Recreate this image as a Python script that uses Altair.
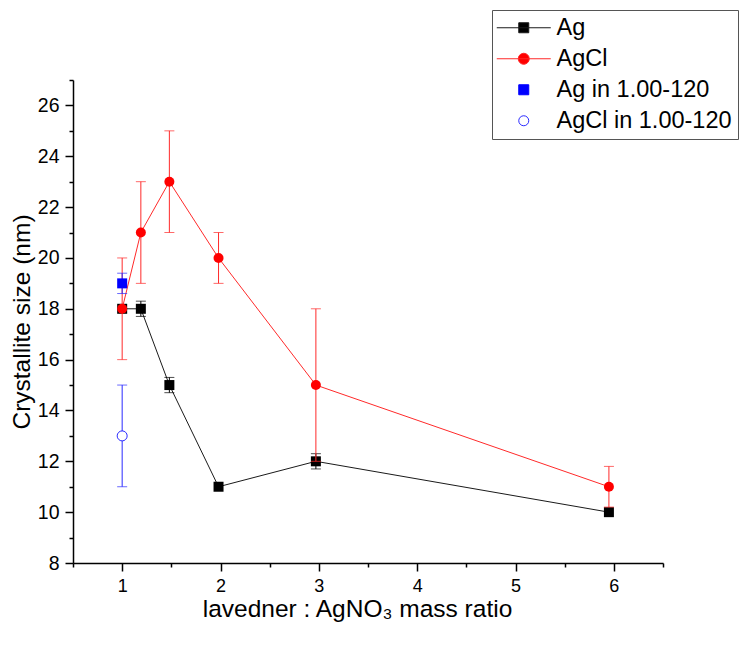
import altair as alt
import pandas as pd

# ---- data ----
ratio_ag = [1.0, 1.19, 1.48, 1.98, 2.97, 5.95]
size_ag = [18, 18, 15, 11, 12, 10]
err_ag = [0, 0.3, 0.3, 0, 0.3, 0]

ratio_agcl = [1.0, 1.19, 1.48, 1.98, 2.97, 5.95]
size_agcl = [18, 21, 23, 20, 15, 11]
err_agcl = [2, 2, 2, 1, 3, 0.8]

ratio_120 = [1.0]
size_ag_120 = [19]
err_ag_120 = [0.4]
size_agcl_120 = [13]
err_agcl_120 = [2]

series_names = ["Ag", "AgCl", "Ag in 1.00-120", "AgCl in 1.00-120"]
x_major = [1, 2, 3, 4, 5, 6]
x_minor = [0.5, 1.5, 2.5, 3.5, 4.5, 5.5, 6.5]
y_major = [8, 10, 12, 14, 16, 18, 20, 22, 24, 26]
y_minor = [9, 11, 13, 15, 17, 19, 21, 23, 25, 27]


def frame(xs, ys, es, name):
    return pd.DataFrame({
        "ratio": xs,
        "size": ys,
        "lo": [y - e for y, e in zip(ys, es)],
        "hi": [y + e for y, e in zip(ys, es)],
        "err": es,
        "series": name,
    })


df_ag = frame(ratio_ag, size_ag, err_ag, series_names[0])
df_agcl = frame(ratio_agcl, size_agcl, err_agcl, series_names[1])
df_ag120 = frame(ratio_120, size_ag_120, err_ag_120, series_names[2])
df_agcl120 = frame(ratio_120, size_agcl_120, err_agcl_120, series_names[3])
df_all = pd.concat([df_ag, df_agcl, df_ag120, df_agcl120], ignore_index=True)

FONT = "Liberation Sans"
xscale = alt.Scale(domain=[0.5, 6.5], nice=False, zero=False)
yscale = alt.Scale(domain=[8, 27], nice=False, zero=False)

major_x = alt.Axis(values=x_major, orient="bottom", title="lavedner : AgNO\u2083 mass ratio",
                   grid=False, domainColor="black", domainWidth=1.5, tickColor="black",
                   tickWidth=1.5, tickSize=8, labelFont=FONT, labelFontSize=18,
                   labelColor="black", labelPadding=6, format="d", titleFont=FONT,
                   titleFontSize=24.5, titleFontWeight="normal", titleColor="black",
                   titlePadding=2, titleX=284)
major_y = alt.Axis(values=y_major, orient="left", title="Crystallite size (nm)",
                   grid=False, domainColor="black", domainWidth=1.5, tickColor="black",
                   tickWidth=1.5, tickSize=8, labelFont=FONT, labelFontSize=19.5,
                   labelColor="black", labelPadding=6, format="d", titleFont=FONT,
                   titleFontSize=24.5, titleFontWeight="normal", titleColor="black",
                   titlePadding=3)
minor_x = alt.Axis(values=x_minor, orient="bottom", title=None, labels=False, grid=False,
                   domain=False, tickColor="black", tickWidth=1.5, tickSize=4)
minor_y = alt.Axis(values=y_minor, orient="left", title=None, labels=False, grid=False,
                   domain=False, tickColor="black", tickWidth=1.5, tickSize=4)


def X(axis=None):
    return alt.X("ratio:Q", scale=xscale, axis=axis)


def Y(axis=None):
    return alt.Y("size:Q", scale=yscale, axis=axis)


def errorbars(df, color):
    d = df[df["err"] > 0]
    base = alt.Chart(d)
    rule = base.mark_rule(color=color, strokeWidth=1).encode(
        x=X(), y=alt.Y("lo:Q", scale=yscale, axis=None), y2="hi:Q")
    cap_lo = base.mark_tick(color=color, orient="horizontal", size=10, thickness=1).encode(
        x=X(), y=alt.Y("lo:Q", scale=yscale, axis=None))
    cap_hi = base.mark_tick(color=color, orient="horizontal", size=10, thickness=1).encode(
        x=X(), y=alt.Y("hi:Q", scale=yscale, axis=None))
    return [rule, cap_lo, cap_hi]


ag_line = alt.Chart(df_ag).mark_line(color="#1a1a1a", strokeWidth=1).encode(
    x=X(major_x), y=Y(major_y))
ag_pts = alt.Chart(df_ag).mark_point(shape="square", filled=True, color="black",
                                     size=100, opacity=1).encode(x=X(), y=Y())

agcl_line = alt.Chart(df_agcl).mark_line(color="#ff2a2a", strokeWidth=1).encode(
    x=X(), y=Y())
agcl_pts = alt.Chart(df_agcl).mark_point(shape="circle", filled=True, color="#ff0000",
                                         size=100, opacity=1).encode(x=X(), y=Y())

ag120_pts = alt.Chart(df_ag120).mark_point(shape="square", filled=True, color="#0000ff",
                                           size=100, opacity=1).encode(x=X(), y=Y())
agcl120_pts = alt.Chart(df_agcl120).mark_point(shape="circle", filled=False, fill="white",
                                               stroke="#2a2aff", strokeWidth=1,
                                               size=100, opacity=1).encode(x=X(), y=Y())

ag_path = "M-5.4,0H5.4M-1,-1H1V1H-1Z"
agcl_path = "M-5.4,0H5.4M1.1,0A1.1,1.1,0,1,1,-1.1,0A1.1,1.1,0,1,1,1.1,0Z"

legend = alt.Legend(title=None, orient="none", legendX=419, legendY=-70,
                    labelFont=FONT, labelFontSize=23.5, labelColor="black", labelLimit=400,
                    symbolSize=100, symbolStrokeWidth=1, symbolOffset=14, labelOffset=21,
                    padding=6, rowPadding=6, strokeColor="#555555", fillColor="white",
                    symbolOpacity=1)

legend_layer = alt.Chart(df_all).mark_point(opacity=0).encode(
    x=X(minor_x), y=Y(minor_y),
    fill=alt.Fill("series:N", scale=alt.Scale(domain=series_names,
                  range=["black", "#ff0000", "#0000ff", "white"]), legend=legend),
    stroke=alt.Stroke("series:N", scale=alt.Scale(domain=series_names,
                      range=["#1a1a1a", "#ff2a2a", "#0000ff", "#2a2aff"]), legend=legend),
    shape=alt.Shape("series:N", scale=alt.Scale(domain=series_names,
                    range=[ag_path, agcl_path, "square", "circle"]), legend=legend),
)

layers = ([ag_line] + errorbars(df_ag, "black") + [ag_pts, agcl_line]
          + errorbars(df_agcl, "#ff2a2a") + [agcl_pts]
          + errorbars(df_ag120, "#2a2aff") + errorbars(df_agcl120, "#2a2aff")
          + [ag120_pts, agcl120_pts, legend_layer])

chart = alt.layer(*layers).resolve_axis(x="independent", y="independent").properties(
    width=590, height=483,
    autosize=alt.AutoSizeParams(type="none"),
    padding={"left": 65, "top": 72, "right": 79, "bottom": 87},
    background="white",
).configure_view(stroke=None)

chart.save("out.html", embed_options={"renderer": "svg", "actions": False})
